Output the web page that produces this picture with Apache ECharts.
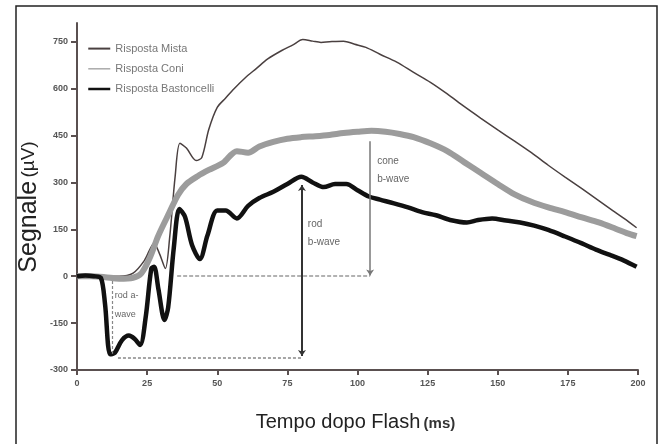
<!DOCTYPE html>
<html>
<head>
<meta charset="utf-8">
<script src="https://cdn.jsdelivr.net/npm/echarts@6/dist/echarts.min.js"></script>
<style>
  html, body { margin: 0; padding: 0; background: #fff; }
  #chart { width: 663px; height: 444px; }
</style>
</head>
<body>
<div id="chart"></div>
<script>
// tempi (ms) e valori (µV)
const mistaT = [0, 10, 15, 20, 24, 27.5, 29.5, 31.5, 33, 35, 36.7, 39, 42.5, 44.5, 47, 50, 53, 56, 60, 64, 68, 73, 77, 80.5, 84, 87, 90, 95, 99, 103, 108, 114, 120, 126, 132, 138, 144, 150, 156, 162, 168, 174, 180, 186, 191, 195, 199.5];
const mistaV = [0, 0, 0, 10, 50, 105, 70, 25, 120, 320, 425, 410, 370, 380, 470, 540, 570, 600, 635, 665, 695, 722, 740, 757, 752, 748, 750, 752, 742, 732, 710, 685, 652, 620, 583, 543, 505, 468, 432, 395, 355, 317, 280, 242, 210, 185, 155];

const coniT = [0, 5, 10, 15, 20, 23, 26, 29, 33, 36, 39, 43, 47, 52, 57, 61, 65, 70, 75, 80, 85, 90, 95, 100, 105, 110, 115, 120, 126, 132, 138, 144, 150, 156, 162, 168, 174, 180, 186, 192, 196, 199.5];
const coniV = [0, 0, -3, -8, -5, 10, 60, 130, 205, 260, 295, 320, 340, 362, 400, 395, 415, 430, 440, 445, 448, 452, 458, 462, 465, 462, 455, 445, 425, 400, 365, 330, 295, 262, 238, 220, 205, 188, 172, 152, 138, 128];

const bastT = [0, 3, 6, 8.5, 10, 11.8, 13.5, 16, 18.5, 20.5, 22.5, 24.5, 26.5, 27.5, 29, 31.2, 32.5, 34.5, 36.5, 38.5, 41, 43.8, 46.5, 50, 53, 57, 61, 65, 70, 75, 80, 84, 88, 92, 96, 100, 104, 108, 113, 118, 123, 128, 133, 139, 143, 148, 153, 158, 163, 168, 174, 180, 185, 190, 195, 199.5];
const bastV = [0, 2, 0, -5, -90, -250, -245, -205, -190, -200, -220, -130, 25, 30, -40, -140, -100, 90, 215, 190, 100, 55, 130, 210, 210, 185, 225, 250, 270, 295, 318, 300, 285, 295, 295, 275, 255, 245, 233, 220, 205, 195, 180, 172, 180, 185, 178, 172, 162, 148, 127, 105, 85, 68, 50, 30];

const yTicks = [-300, -150, 0, 150, 300, 450, 600, 750];

const font = 'Liberation Sans, Arial, sans-serif';

function pairs(t, v) {
  return t.map((x, i) => [x, v[i]]);
}

const chart = echarts.init(document.getElementById('chart'), null, { renderer: 'canvas' });

chart.setOption({
  animation: false,
  backgroundColor: '#fff',
  grid: { left: 77, right: 25, top: 23, bottom: 74 },
  legend: {
    orient: 'vertical',
    left: 82,
    top: 38,
    itemWidth: 22,
    itemHeight: 14,
    itemGap: 9,
    textStyle: { fontSize: 11, color: '#777', fontFamily: font },
    data: [
      { name: 'Risposta Mista', itemStyle: { opacity: 0 }, lineStyle: { color: '#4a4040', width: 2 } },
      { name: 'Risposta Coni', itemStyle: { opacity: 0 }, lineStyle: { color: '#aaa', width: 1.5 } },
      { name: 'Risposta Bastoncelli', itemStyle: { opacity: 0 }, lineStyle: { color: '#111', width: 2.5 } }
    ]
  },
  xAxis: {
    type: 'value',
    min: 0,
    max: 200,
    interval: 25,
    name: '{a|Tempo dopo Flash} {b|(ms)}',
    nameLocation: 'middle',
    nameGap: 42,
    nameTextStyle: {
      padding: [0, 4, 0, 0],
      rich: {
        a: { fontSize: 20, color: '#222', fontFamily: font },
        b: { fontSize: 15, fontWeight: 'bold', color: '#333', fontFamily: font, padding: [4, 0, 0, 0] }
      }
    },
    axisLine: { onZero: false, lineStyle: { color: '#5a5050', width: 2 } },
    axisTick: { length: 5, lineStyle: { color: '#5a5050', width: 2 } },
    axisLabel: { margin: 9, fontSize: 9, fontWeight: 'bold', color: '#555', fontFamily: font },
    splitLine: { show: false }
  },
  yAxis: {
    type: 'value',
    min: -300,
    max: 810,
    axisLine: { show: true, onZero: false, lineStyle: { color: '#5a5050', width: 2 } },
    axisTick: { show: true, length: 6, customValues: yTicks, lineStyle: { color: '#5a5050', width: 2 } },
    axisLabel: { margin: 9, fontSize: 9, fontWeight: 'bold', color: '#555', fontFamily: font, customValues: yTicks },
    splitLine: { show: false }
  },
  graphic: [
    {
      type: 'rect',
      shape: { x: 16, y: 6, width: 641, height: 450 },
      style: { fill: 'none', stroke: '#222', lineWidth: 1.5 },
      silent: true
    },
    {
      type: 'text',
      x: 29,
      y: 207,
      rotation: Math.PI / 2,
      style: {
        text: '{a|Segnale} {b|(µV)}',
        align: 'center',
        verticalAlign: 'middle',
        fill: '#222',
        rich: {
          a: { fontSize: 25, fill: '#222', fontFamily: font },
          b: { fontSize: 19, fill: '#222', fontFamily: font }
        }
      }
    }
  ],
  series: [
    {
      name: 'Risposta Mista',
      type: 'line',
      data: pairs(mistaT, mistaV),
      showSymbol: false,
      symbol: 'none',
      smooth: 0.3,
      color: '#4a4040',
      lineStyle: { color: '#4a4040', width: 1.5 },
      z: 2
    },
    {
      name: 'Risposta Coni',
      type: 'line',
      data: pairs(coniT, coniV),
      showSymbol: false,
      symbol: 'none',
      smooth: 0.3,
      color: '#aaa',
      lineStyle: { color: '#9c9c9c', width: 6 },
      z: 3
    },
    {
      name: 'Risposta Bastoncelli',
      type: 'line',
      data: pairs(bastT, bastV),
      showSymbol: false,
      symbol: 'none',
      smooth: 0.3,
      color: '#111',
      lineStyle: { color: '#111', width: 4.5 },
      z: 4,
      markLine: {
        silent: true,
        symbolSize: 6,
        label: { show: false },
        data: [
          // linea tratteggiata al minimo dell'onda a
          [{ coord: [14.6, -262], symbol: 'none', lineStyle: { color: '#888', width: 1.5, type: [3, 2] } },
           { coord: [80.2, -262], symbol: 'none' }],
          // linea a zero
          [{ coord: [35.7, 0], symbol: 'none', lineStyle: { color: '#999', width: 1.5, type: [4, 2] } },
           { coord: [104.5, 0], symbol: 'none' }],
          // freccia rod b-wave
          [{ coord: [80.2, 292], symbol: 'arrow', lineStyle: { color: '#333', width: 2, type: 'solid' } },
           { coord: [80.2, -255], symbol: 'arrow' }],
          // freccia cone b-wave
          [{ coord: [104.5, 432], symbol: 'none', lineStyle: { color: '#777', width: 1.5, type: 'solid' } },
           { coord: [104.5, 2], symbol: 'arrow' }],
          // rod a-wave
          [{ coord: [12.5, -15], symbol: 'none', lineStyle: { color: '#888', width: 1.2, type: [3, 2] } },
           { coord: [12.5, -248], symbol: 'none' }]
        ]
      },
      markPoint: {
        silent: true,
        symbol: 'circle',
        symbolSize: 0,
        label: {
          show: true,
          position: 'right',
          distance: 0,
          align: 'left',
          color: '#666',
          fontFamily: font,
          fontSize: 10,
          lineHeight: 18,
          formatter: p => p.name
        },
        data: [
          { name: 'cone\nb-wave', coord: [107, 340] },
          { name: 'rod\nb-wave', coord: [82.3, 136] },
          { name: 'rod a-\nwave', coord: [13.5, -93], label: { fontSize: 9, lineHeight: 19 } }
        ]
      }
    }
  ]
});
</script>
</body>
</html>
